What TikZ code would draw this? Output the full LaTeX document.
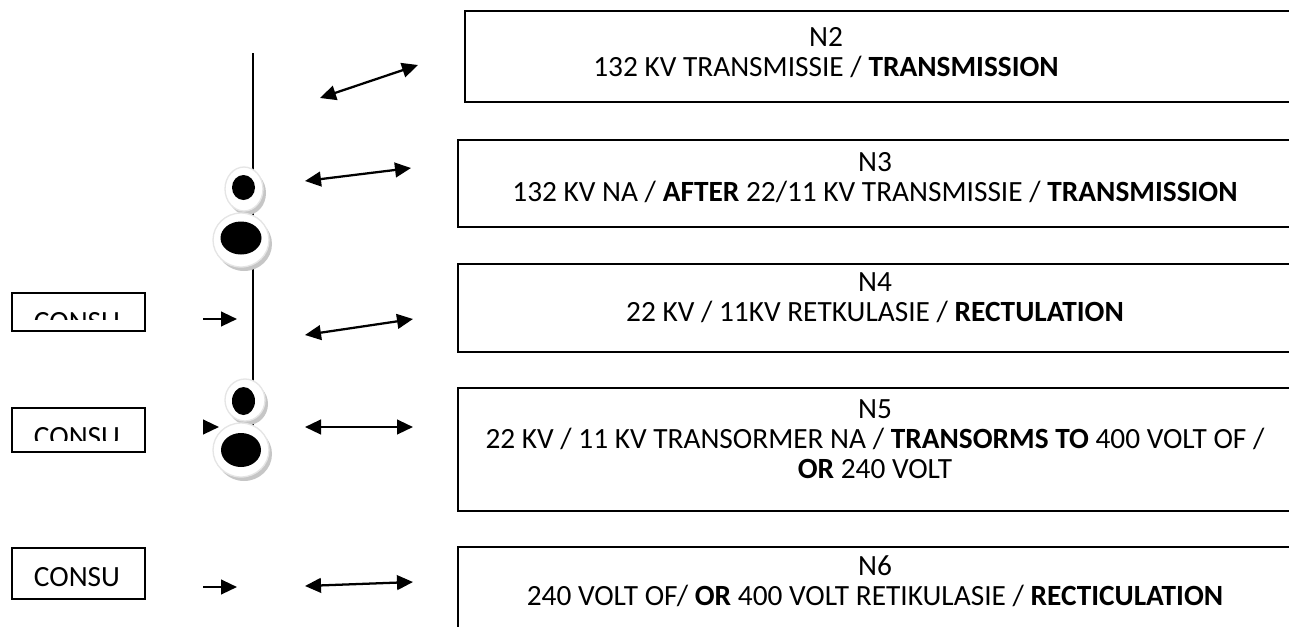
\documentclass[tikz,border=0pt]{standalone}
\usepackage{fontspec}
\setmainfont{Carlito}
\usetikzlibrary{arrows.meta}
\begin{document}
\begin{tikzpicture}[x=0.75pt,y=-0.75pt,
  boxline/.style={draw=black,line width=1.5pt,line join=miter},
  lbl/.style={align=center,inner sep=0pt,font=\fontsize{22}{22.5}\selectfont},
  consubox/.style={draw=black,line width=1.2pt,inner sep=0pt,anchor=north west,minimum width=99.75pt},
  dbl/.style={line width=1.7pt,{Triangle[length=12pt,width=11pt]}-{Triangle[length=12pt,width=11pt]}},
  sgl/.style={line width=1.7pt,-{Triangle[length=12pt,width=11pt]}},
  ring/.style={fill=white,draw=gray!20,line width=1pt},
  shade/.style={fill=gray!45,draw=none},
  dot/.style={fill=black,draw=none}]
\useasboundingbox (0,0) rectangle (1289,626);
\clip (0,0) rectangle (1289,626);

% right-hand boxes (they run past the right edge of the picture)
\draw[boxline] (1320,11) -- (465,11) -- (465,102) -- (1320,102);
\draw[boxline] (1320,140) -- (458,140) -- (458,227) -- (1320,227);
\draw[boxline] (1320,264) -- (458,264) -- (458,352) -- (1320,352);
\draw[boxline] (1320,388) -- (458,388) -- (458,511) -- (1320,511);
\draw[boxline] (1320,547) -- (458,547) -- (458,640);

\node[lbl] (t2) at (826,53) {N2\\132 KV TRANSMISSIE / \textbf{TRANSMISSION}};
\node[lbl] (t3) at (875,178) {N3\\132 KV NA / \textbf{AFTER} 22/11 KV TRANSMISSIE / \textbf{TRANSMISSION}};
\node[lbl] (t4) at (875,298) {N4\\22 KV / 11KV RETKULASIE / \textbf{RECTULATION}};
\node[lbl] (t5) at (875,439) {N5\\22 KV / 11 KV TRANSORMER NA / \textbf{TRANSORMS TO} 400 VOLT OF /\\\textbf{OR} 240 VOLT};
\node[lbl] (t6) at (875,581) {N6\\240 VOLT OF/ \textbf{OR} 400 VOLT RETIKULASIE / \textbf{RECTICULATION}};

% vertical bus line
\coordinate (vtop) at (253,53);
\coordinate (vbot) at (253,440);
\draw[line width=1.2pt] (vtop) -- (vbot);

% circles group 1
\fill[shade] (247,193) ellipse [x radius=19, y radius=22];
\draw[ring] (244,189) ellipse [x radius=19, y radius=22];
\fill[dot] (243.5,187.5) ellipse [x radius=11.5, y radius=12.5];
\fill[shade] (244,244) ellipse [x radius=28, y radius=27];
\draw[ring] (241,240) ellipse [x radius=28, y radius=27];
\fill[dot] (241,238) ellipse [x radius=20.5, y radius=16.5];

% circles group 2
\fill[shade] (248,404) ellipse [x radius=20, y radius=21];
\draw[ring] (245,400) ellipse [x radius=20, y radius=21];
\fill[dot] (243.5,401) ellipse [x radius=11.5, y radius=14];
\fill[shade] (244,454) ellipse [x radius=28, y radius=27];
\draw[ring] (241,450) ellipse [x radius=28, y radius=27];
\fill[dot] (241,450) ellipse [x radius=20, y radius=17];

% double arrows
\coordinate (a2s) at (320,98);  \coordinate (a2e) at (418,65);
\coordinate (a3s) at (305,181); \coordinate (a3e) at (411,168);
\coordinate (a4s) at (305,335); \coordinate (a4e) at (413,319);
\coordinate (a5s) at (305,427); \coordinate (a5e) at (413,427);
\coordinate (a6s) at (305,586); \coordinate (a6e) at (413,582);
\draw[dbl] (a2s) -- (a2e);
\draw[dbl] (a3s) -- (a3e);
\draw[dbl] (a4s) -- (a4e);
\draw[dbl] (a5s) -- (a5e);
\draw[dbl] (a6s) -- (a6e);

% single arrows
\coordinate (s1s) at (203,319); \coordinate (s1e) at (237,319);
\coordinate (s2s) at (203,427); \coordinate (s2e) at (219,427);
\coordinate (s3s) at (203,587); \coordinate (s3e) at (237,587);
\draw[sgl] (s1s) -- (s1e);
\draw[sgl] (s2s) -- (s2e);
\draw[sgl] (s3s) -- (s3e);

% CONSU boxes
\node[consubox,minimum height=28.5pt] (c1) at (11,292) {};
\node[consubox,minimum height=33pt] (c2) at (11,407) {};
\node[consubox,minimum height=38.25pt] (c3) at (11,547) {};
\begin{scope}
\clip (12,293) rectangle (143,319);
\node[lbl] (c1t) at (77,322) {CONSU};
\end{scope}
\begin{scope}
\clip (12,408) rectangle (143,440);
\node[lbl] (c2t) at (77,437) {CONSU};
\end{scope}
\node[lbl] (c3t) at (77,577) {CONSU};
\end{tikzpicture}
\end{document}
